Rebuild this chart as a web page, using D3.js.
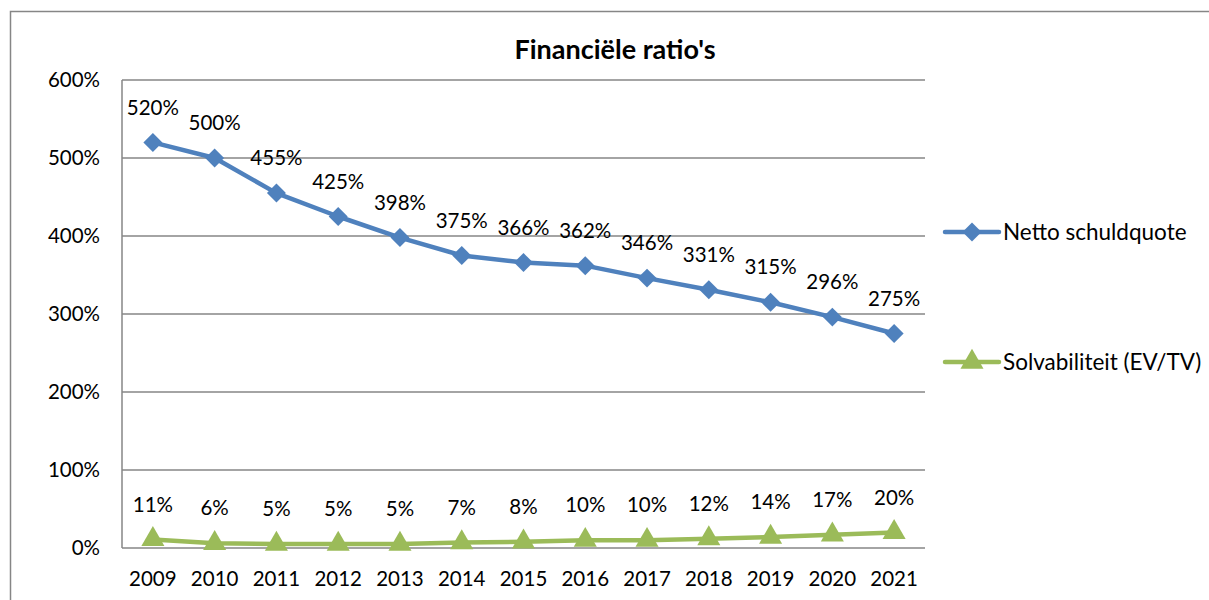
<!DOCTYPE html>
<html>
<head>
<meta charset="utf-8">
<script src="https://cdn.jsdelivr.net/npm/d3@7"></script>
<style>
  body { margin: 0; background: #fff; }
  text { font-family: Lato, "Open Sans", sans-serif; fill: #000; }
</style>
</head>
<body>
<svg></svg>
<script>
const years = ['2009', '2010', '2011', '2012', '2013', '2014', '2015', '2016', '2017', '2018', '2019', '2020', '2021'];
const schuldquote = [520, 500, 455, 425, 398, 375, 366, 362, 346, 331, 315, 296, 275];
const solvabiliteit = [11, 6, 5, 5, 5, 7, 8, 10, 10, 12, 14, 17, 20];
const yTicks = [0, 100, 200, 300, 400, 500, 600];
const seriesNames = ['Netto schuldquote', 'Solvabiliteit (EV/TV)'];

const width = 1209,
      height = 600,
      plotL = 122, plotR = 925, plotT = 80, plotB = 548,
      fontSize = '20.5px',
      blue = '#4F81BD',
      green = '#9BBB59',
      grid = '#868686';

const svg = d3.select('svg')
  .attr('width', width)
  .attr('height', height);

// chart frame
svg.append('path')
  .attr('d', `M10.5,${height} V11.5 H${width}`)
  .attr('fill', 'none')
  .attr('stroke', grid)
  .attr('stroke-width', 1.5);

svg.append('text')
  .attr('x', 615)
  .attr('y', 59)
  .attr('text-anchor', 'middle')
  .style('font-size', '27px')
  .style('font-weight', 'bold')
  .text("Financiële ratio's");

const x = d3.scaleBand().domain(years).range([plotL, plotR]);
const y = d3.scaleLinear().domain([0, 600]).range([plotB, plotT]);

// gridlines
svg.append('g')
  .selectAll('line')
  .data(yTicks)
  .enter().append('line')
  .attr('x1', plotL)
  .attr('x2', plotR)
  .attr('y1', d => y(d))
  .attr('y2', d => y(d))
  .attr('stroke', grid)
  .attr('stroke-width', 1.5);

svg.append('line')
  .attr('x1', plotL).attr('x2', plotL)
  .attr('y1', plotT).attr('y2', plotB)
  .attr('stroke', grid)
  .attr('stroke-width', 1.5);

// y tick labels
svg.append('g')
  .selectAll('text')
  .data(yTicks)
  .enter().append('text')
  .attr('x', 100)
  .attr('y', d => y(d))
  .attr('dy', '0.35em')
  .attr('text-anchor', 'end')
  .style('font-size', fontSize)
  .text(d => d + '%');

// x tick labels
svg.append('g')
  .selectAll('text')
  .data(years)
  .enter().append('text')
  .attr('x', d => x(d) + x.bandwidth() / 2)
  .attr('y', 579)
  .attr('dy', '0.35em')
  .attr('text-anchor', 'middle')
  .style('font-size', fontSize)
  .text(d => d);

const line = d3.line()
  .x((d, i) => x(years[i]) + x.bandwidth() / 2)
  .y(d => y(d));

const diamond = d3.symbol().type(d3.symbolSquare).size(180);
const triangle = d3.symbol().type(d3.symbolTriangle).size(230);

function drawSeries(values, color, sym, rotate) {
  const g = svg.append('g');
  g.append('path')
    .attr('d', line(values))
    .attr('fill', 'none')
    .attr('stroke', color)
    .attr('stroke-width', 4.5)
    .attr('stroke-linejoin', 'round');

  g.selectAll('path.mark')
    .data(values)
    .enter().append('path')
    .attr('class', 'mark')
    .attr('d', sym)
    .attr('fill', color)
    .attr('transform', (d, i) =>
      `translate(${x(years[i]) + x.bandwidth() / 2},${y(d)}) rotate(${rotate})`);

  g.selectAll('text')
    .data(values)
    .enter().append('text')
    .attr('x', (d, i) => x(years[i]) + x.bandwidth() / 2)
    .attr('y', d => y(d) - 35)
    .attr('dy', '0.35em')
    .attr('text-anchor', 'middle')
    .style('font-size', fontSize)
    .text(d => d + '%');
}

drawSeries(schuldquote, blue, diamond, 45);
drawSeries(solvabiliteit, green, triangle, 0);

// legend
const legend = svg.append('g')
  .selectAll('g')
  .data(seriesNames)
  .enter().append('g')
  .attr('transform', (d, i) => `translate(945,${i === 0 ? 232 : 362})`);

legend.append('line')
  .attr('x1', 0).attr('x2', 54)
  .attr('stroke', (d, i) => i === 0 ? blue : green)
  .attr('stroke-width', 4.5)
  .attr('stroke-linecap', 'round');

legend.append('path')
  .attr('d', (d, i) => i === 0 ? diamond() : triangle())
  .attr('fill', (d, i) => i === 0 ? blue : green)
  .attr('transform', (d, i) => `translate(27,0) rotate(${i === 0 ? 45 : 0})`);

legend.append('text')
  .attr('x', 58)
  .attr('dy', '0.35em')
  .style('font-size', '22.5px')
  .text(d => d);
</script>
</body>
</html>
